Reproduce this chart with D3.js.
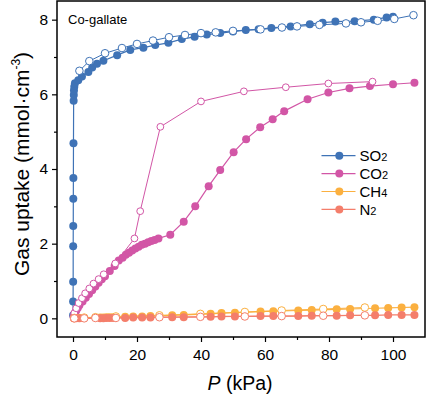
<!DOCTYPE html>
<html>
<head>
<meta charset="utf-8">
<script src="https://cdn.jsdelivr.net/npm/d3@7"></script>
<style>
body { margin: 0; background: #fff; }
text { font-family: "Liberation Sans", Arial, sans-serif; }
</style>
</head>
<body>
<script>
// data, [P (kPa), uptake (mmol/cm3)]
var so2Ads = [[0.02,0.08],[0.03,0.45],[0.05,0.98],[0.06,1.93],[0.08,2.47],[0.1,3.2],[0.12,3.76],[0.15,4.69],[0.2,5.83],[0.25,5.98],[0.3,6.1],[0.4,6.2],[0.6,6.3],[1.65,6.38],[2.8,6.48],[4.8,6.6],[6,6.72],[7.5,6.82],[9.5,6.9],[13.8,7.05],[17.9,7.19],[22,7.25],[25.7,7.32],[29.8,7.38],[34,7.48],[38,7.54],[41.8,7.6],[46,7.64],[50,7.68],[54,7.72],[58,7.74],[62,7.78],[68,7.82],[74,7.88],[78,7.92],[82,7.95],[88,7.96],[94,8.0],[98,8.06],[100,8.08]];
var so2Des = [[2,6.63],[5.1,6.89],[10,7.1],[15.3,7.24],[20,7.35],[25,7.44],[30,7.53],[35,7.59],[40,7.64],[44.6,7.66],[50,7.7],[58.6,7.74],[65.3,7.79],[70,7.82],[77,7.86],[85.3,7.9],[90,7.93],[95.2,7.97],[100.4,8.02],[106.4,8.12]];
var co2Ads = [[0.2,0.05],[0.5,0.12],[1,0.2],[1.5,0.28],[2,0.35],[3,0.45],[4,0.55],[5,0.65],[6,0.75],[7,0.85],[8,0.95],[9,1.05],[10,1.13],[11.5,1.27],[13,1.4],[14.3,1.55],[15.5,1.62],[16.5,1.7],[17.5,1.76],[18.5,1.82],[19.5,1.87],[20.5,1.92],[21.5,1.97],[22.5,2.0],[23.5,2.04],[24.5,2.07],[25.5,2.1],[26.7,2.14],[30.4,2.24],[34.6,2.59],[38.2,3.0],[42.4,3.54],[46,3.97],[50.2,4.45],[54.1,4.8],[58.5,5.12],[62.4,5.33],[66,5.55],[73.3,5.87],[79.8,6.05],[86.4,6.16],[92.8,6.22],[100,6.27],[106.7,6.31]];
var co2Des = [[0.4,0.14],[1,0.27],[1.75,0.41],[2.8,0.54],[3.8,0.67],[5.1,0.8],[6.4,0.93],[8,1.05],[9.6,1.18],[13.2,1.47],[19.2,2.14],[21,2.87],[27.3,5.13],[40,5.81],[53.4,6.08],[66.5,6.19],[79.8,6.29],[93.6,6.34]];
var ch4Ads = [[0.3,0.0],[1,0.01],[2,0.01],[8.5,0.02],[9.5,0.02],[10.5,0.03],[11.5,0.03],[12.6,0.03],[16.3,0.04],[18.8,0.05],[21.6,0.05],[24.2,0.06],[31,0.08],[34.6,0.09],[43,0.12],[46.4,0.14],[50.6,0.15],[58.6,0.18],[62.6,0.19],[70.4,0.21],[74.6,0.22],[82.4,0.24],[86.6,0.25],[94.4,0.27],[98.5,0.28],[102.7,0.29],[106.7,0.3]];
var ch4Des = [[0.4,0.01],[3.5,0.02],[7,0.03],[13.4,0.05],[27,0.08],[39.8,0.12],[53.7,0.17],[65.2,0.21],[78.2,0.25],[91.2,0.29]];
var n2Ads = [[0.3,0],[1,0],[2,0],[8.5,0],[9.5,0.005],[10.5,0.01],[11.5,0.01],[12.6,0.01],[16.3,0.01],[18.8,0.02],[21.6,0.02],[24.2,0.02],[31,0.03],[34.6,0.03],[43,0.04],[46.4,0.05],[50.6,0.05],[58.6,0.06],[62.6,0.06],[70.4,0.06],[74.6,0.07],[82.4,0.07],[86.6,0.08],[94.4,0.08],[98.5,0.09],[102.7,0.09],[106.7,0.09]];
var n2Des = [[0.4,0],[3.5,0],[7,0.01],[13.4,0.01],[27,0.03],[39.8,0.04],[53.7,0.05],[65.2,0.06],[78.2,0.07],[91.2,0.08]];

var gasNames = ["SO", "CO", "CH", "N"];
var gasSubs = ["2", "2", "4", "2"];
var gasColors = ["#3f73b6", "#d256a6", "#fbb040", "#f47e6b"];
var xTicks = [0, 20, 40, 60, 80, 100];
var yTicks = [0, 2, 4, 6, 8];

var width = 426, height = 398;
var padL = 57, padR = 425, padT = 1, padB = 337;

var svg = d3.select("body").append("svg")
  .attr("width", width)
  .attr("height", height);

var x = d3.scaleLinear().domain([-5, 110]).range([padL, padR]);
var y = d3.scaleLinear().domain([-0.5, 8.5]).range([padB, padT]);

// minor ticks first, then the major ones with labels
svg.append("g")
  .attr("transform", "translate(0," + padB + ")")
  .call(d3.axisBottom(x).tickValues([10, 30, 50, 70, 90]).tickSize(3).tickFormat(""));
svg.append("g")
  .attr("transform", "translate(" + padL + ",0)")
  .call(d3.axisLeft(y).tickValues([1, 3, 5, 7]).tickSize(3).tickFormat(""));

svg.append("g")
  .attr("transform", "translate(0," + padB + ")")
  .call(d3.axisBottom(x).tickValues(xTicks).tickSize(5).tickPadding(7).tickSizeOuter(0));
svg.append("g")
  .attr("transform", "translate(" + padL + ",0)")
  .call(d3.axisLeft(y).tickValues(yTicks).tickSize(5).tickPadding(4).tickSizeOuter(0));

svg.selectAll(".domain").remove();
svg.selectAll(".tick line").attr("stroke", "#000").attr("stroke-width", 1.2);
svg.selectAll(".tick text").attr("font-size", 15.5).attr("fill", "#000")
  .style("font-family", "'Liberation Sans', Arial, sans-serif");

// frame
svg.append("rect")
  .attr("x", padL).attr("y", padT)
  .attr("width", padR - padL).attr("height", padB - padT)
  .attr("fill", "none").attr("stroke", "#000").attr("stroke-width", 1.5);

var line = d3.line()
  .x(function(d) { return x(d[0]); })
  .y(function(d) { return y(d[1]); });

var plot = svg.append("g");

function drawSeries(data, color, open, r, lw) {
  plot.append("path")
    .attr("d", line(data))
    .attr("fill", "none")
    .attr("stroke", color)
    .attr("stroke-width", lw);
  plot.append("g").selectAll("circle")
    .data(data)
    .enter().append("circle")
    .attr("cx", function(d) { return x(d[0]); })
    .attr("cy", function(d) { return y(d[1]); })
    .attr("r", r)
    .attr("fill", open ? "#fff" : color)
    .attr("stroke", open ? color : "none")
    .attr("stroke-width", 1);
}

var series = [
  [so2Ads, so2Des],
  [co2Ads, co2Des],
  [ch4Ads, ch4Des],
  [n2Ads, n2Des]
];
for (var i = 0; i < series.length; i++) {
  drawSeries(series[i][0], gasColors[i], false, 4, 1.2);
  drawSeries(series[i][1], gasColors[i], true, i == 1 ? 3.4 : 3.8, 1);
}

// legend
var legend = svg.append("g");
for (var j = 0; j < gasNames.length; j++) {
  var ly = 155.7 + j * 17.9;
  legend.append("line")
    .attr("x1", 321.5).attr("x2", 355.5)
    .attr("y1", ly).attr("y2", ly)
    .attr("stroke", gasColors[j]).attr("stroke-width", 1.2);
  legend.append("circle")
    .attr("cx", 339.3).attr("cy", ly).attr("r", 4)
    .attr("fill", gasColors[j]);
  var t = legend.append("text")
    .attr("x", 359.5).attr("y", ly + 5.5)
    .attr("font-size", 15).attr("fill", "#000");
  t.append("tspan").text(gasNames[j]);
  t.append("tspan").attr("font-size", 11).text(gasSubs[j]);
}

svg.append("text")
  .attr("x", 68).attr("y", 24)
  .attr("font-size", 13)
  .text("Co-gallate");

// axis titles
var xt = svg.append("text")
  .attr("x", 240).attr("y", 390)
  .attr("text-anchor", "middle")
  .attr("font-size", 19.5);
xt.append("tspan").attr("font-style", "italic").text("P");
xt.append("tspan").text(" (kPa)");

var yt = svg.append("text")
  .attr("transform", "translate(29,164) rotate(-90)")
  .attr("text-anchor", "middle")
  .attr("font-size", 21);
yt.append("tspan").text("Gas uptake (mmol\u00b7cm");
yt.append("tspan").attr("font-size", 12).attr("dy", -9).text("-3");
yt.append("tspan").attr("dy", 9).text(")");
</script>
</body>
</html>
